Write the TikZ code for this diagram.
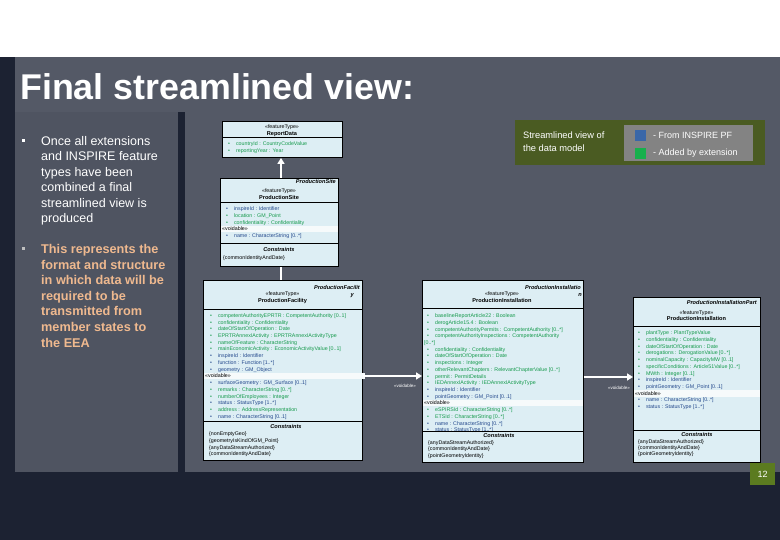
\documentclass[tikz,border=0pt]{standalone}
\usepackage{fontspec}
\setmainfont{Liberation Sans}
\usetikzlibrary{arrows.meta}
\definecolor{slateL}{HTML}{4F5461}
\definecolor{slateR}{HTML}{545966}
\definecolor{navy}{HTML}{1C2232}
\definecolor{umlfill}{HTML}{DDEEF4}
\definecolor{umlb}{HTML}{23488C}
\definecolor{umlg}{HTML}{159A4C}
\definecolor{tanc}{HTML}{EFB98F}
\definecolor{olive}{HTML}{4A5B22}
\definecolor{leggray}{HTML}{838383}
\definecolor{pfblue}{HTML}{3A67A8}
\definecolor{extgreen}{HTML}{17B04C}
\definecolor{pagegreen}{HTML}{5B7B20}
\definecolor{bandc}{HTML}{F6FAFB}
\begin{document}
\begin{tikzpicture}[x=1pt,y=-1pt,
  umlbox/.style={draw=black,line width=0.9pt,fill=umlfill,inner sep=0pt,anchor=north west},
  attr/.style={anchor=base west,inner sep=0pt,font=\fontsize{5.3}{6}\selectfont},
  stereo/.style={anchor=base,inner sep=0pt,font=\fontsize{5.3}{6}\selectfont},
  cname/.style={anchor=base,inner sep=0pt,font=\bfseries\fontsize{5.6}{6.5}\selectfont},
  tagname/.style={anchor=base east,inner sep=0pt,font=\bfseries\itshape\fontsize{5.6}{6.5}\selectfont},
  void/.style={anchor=base west,inner sep=0pt,font=\fontsize{5.3}{6}\selectfont},
  cons/.style={anchor=base west,inner sep=0pt,font=\fontsize{5.3}{6}\selectfont},
  conshead/.style={anchor=base,inner sep=0pt,font=\bfseries\itshape\fontsize{5.6}{6.5}\selectfont},
  sepline/.style={draw=black,line width=0.9pt},
  link/.style={draw=white,line width=1.6pt},
  arrowlink/.style={link,-{Triangle[width=7pt,length=6pt]}},
  linklabel/.style={anchor=base east,inner sep=0pt,text=white,font=\fontsize{4.5}{5}\selectfont},
  bodytext/.style={anchor=base west,inner sep=0pt,font=\fontsize{12.5}{15}\selectfont},
  legtext/.style={anchor=base west,inner sep=0pt,text=white,font=\fontsize{9.3}{11}\selectfont},
  swatch/.style={minimum size=11pt,anchor=north west,inner sep=0pt}
]
\useasboundingbox (0,0) rectangle (780,540);
% ---------- background ----------
\fill[white] (0,0) rectangle (780,540);
\fill[slateR] (0,57) rectangle (780,472);
\fill[slateL] (15,112) rectangle (178,472);
\fill[navy] (0,57) rectangle (15,540);
\fill[navy] (178,112) rectangle (185,472);
\fill[navy] (0,472) rectangle (780,540);

% ---------- title ----------
\node[anchor=base west,inner sep=0pt,text=white,font=\bfseries\fontsize{35.8}{40}\selectfont] (title) at (20,100) {Final streamlined view:};

% ---------- left text ----------
\fill[white] (21.5,139.5) rectangle ++(3,3);
\fill[black!25] (21.5,247.5) rectangle ++(3,3);
\foreach \txt [count=\i] in {Once all extensions, and INSPIRE feature, types have been, combined a final, streamlined view is, produced}
  {\node[bodytext,text=white] (ba\i) at (41,{145.3+15.5*(\i-1)}) {\txt};}
\foreach \txt [count=\i] in {This represents the, format and structure, in which data will be, required to be, transmitted from, member states to, the EEA}
  {\node[bodytext,text=tanc,font=\bfseries\fontsize{12.7}{15}\selectfont] (bb\i) at (41,{253.5+15.6*(\i-1)}) {\txt};}

% ---------- legend ----------
\node[fill=olive,minimum width=250pt,minimum height=45pt,anchor=north west,inner sep=0pt] (legend) at (515,120) {};
\node[fill=leggray,minimum width=129pt,minimum height=36pt,anchor=north west,inner sep=0pt] (legin) at (624,125) {};
\node[legtext] (legt1) at (523,138.5) {Streamlined view of};
\node[legtext] (legt2) at (523,151.5) {the data model};
\node[swatch,fill=pfblue] (sqb) at (635,130) {};
\node[swatch,fill=extgreen] (sqg) at (635,147.5) {};
\node[legtext,font=\fontsize{9}{11}\selectfont] (legb) at (653,138.5) {- From INSPIRE PF};
\node[legtext,font=\fontsize{9}{11}\selectfont] (legg) at (653,155.5) {- Added by extension};

% ---------- page number ----------
\node[fill=pagegreen,minimum width=25pt,minimum height=22pt,anchor=north west,inner sep=0pt] (pg) at (750,463) {};
\node[text=white,inner sep=0pt,font=\fontsize{9}{10}\selectfont] (pgn) at (pg.center) {12};

% ---------- ReportData ----------
\node[umlbox,minimum width=120pt,minimum height=36pt] (report) at (222,121) {};
\node[stereo] (rs) at (282,129) {«featureType»};
\node[cname] (rn) at (282,135.3) {ReportData};
\draw[sepline] (222,137.5) -- (342,137.5);
\node[attr,text=umlg] (ra1) at (228,145.8) {•\hspace{6pt}countryId : CountryCodeValue};
\node[attr,text=umlg] (ra2) at (228,152.8) {•\hspace{6pt}reportingYear : Year};

% ---------- ProductionSite ----------
\node[umlbox,minimum width=118pt,minimum height=88pt] (site) at (220,178) {};
\node[tagname] (stag) at (336,184) {ProductionSite};
\node[stereo] (ss) at (279,193) {«featureType»};
\node[cname] (sn) at (279,199.3) {ProductionSite};
\draw[sepline] (220,202.5) -- (338,202.5);
\fill[bandc] (220.5,225.9) rectangle (337.5,232.3);
\foreach \cc/\txt [count=\i] in {umlb/{inspireId : Identifier}, umlg/{location : GM\_Point}, umlg/{confidentiality : Confidentiality}}
  {\node[attr,text=\cc] (sa\i) at (226,{210.8+6.7*(\i-1)}) {•\hspace{6pt}\txt};}
\node[void] (sv) at (222,230.9) {«voidable»};
\node[attr,text=umlb] (sa4) at (226,237.6) {•\hspace{6pt}name : CharacterString [0..*]};
\draw[sepline] (220,243) -- (338,243);
\node[conshead] (sch) at (279,252) {Constraints};
\node[cons] (sc1) at (223,260) {\{commonIdentityAndDate\}};

% ---------- ProductionFacility ----------
\node[umlbox,minimum width=159pt,minimum height=180pt] (facility) at (203,280) {};
\node[tagname] (ftag) at (360,290) {ProductionFacilit};
\node[tagname] (ftag2) at (354,297) {y};
\node[stereo] (fs) at (282.5,296) {«featureType»};
\node[cname] (fn) at (282.5,303) {ProductionFacility};
\draw[sepline] (203,309) -- (362,309);
\fill[bandc] (203.5,372.8) rectangle (365,379.3);
\foreach \cc/\txt [count=\i] in {
  umlg/{competentAuthorityEPRTR : CompetentAuthority [0..1]},
  umlg/{confidentiality : Confidentiality},
  umlg/{dateOfStartOfOperation : Date},
  umlg/{EPRTRAnnexIActivity : EPRTRAnnexIActivityType},
  umlg/{nameOfFeature : CharacterString},
  umlg/{mainEconomicActivity : EconomicActivityValue [0..1]},
  umlb/{inspireId : Identifier},
  umlb/{function : Function [1..*]},
  umlb/{geometry : GM\_Object}}
  {\node[attr,text=\cc] (fa\i) at (210,{317.5+6.7*(\i-1)}) {•\hspace{6pt}\txt};}
\node[void] (fv) at (205,377.8) {«voidable»};
\foreach \cc/\txt [count=\i] in {
  umlb/{surfaceGeometry : GM\_Surface [0..1]},
  umlg/{remarks : CharacterString [0..*]},
  umlg/{numberOfEmployees : Integer},
  umlb/{status : StatusType [1..*]},
  umlg/{address : AddressRepresentation},
  umlb/{name : CharacterString [0..1]}}
  {\node[attr,text=\cc] (fb\i) at (210,{384.8+6.7*(\i-1)}) {•\hspace{6pt}\txt};}
\draw[sepline] (203,421) -- (362,421);
\node[conshead] (fch) at (286,428.5) {Constraints};
\foreach \txt [count=\i] in {{\{nonEmptyGeo\}}, {\{geometryIsKindOfGM\_Point\}}, {\{anyDataStreamAuthorized\}}, {\{commonIdentityAndDate\}}}
  {\node[cons] (fc\i) at (209,{435.8+6.6*(\i-1)}) {\txt};}

% ---------- ProductionInstallation ----------
\node[umlbox,minimum width=161pt,minimum height=182pt] (installation) at (422,280) {};
\node[tagname] (itag) at (581,290) {ProductionInstallatio};
\node[tagname] (itag2) at (582,297) {n};
\node[stereo] (is) at (502,296) {«featureType»};
\node[cname] (in) at (502,303) {ProductionInstallation};
\draw[sepline] (422,308) -- (583,308);
\fill[bandc] (422.5,399.9) rectangle (582.5,406.4);
\foreach \cc/\txt [count=\i] in {
  umlg/{baselineReportArticle22 : Boolean},
  umlg/{derogArticle15.4 : Boolean},
  umlg/{competentAuthorityPermits : CompetentAuthority [0..*]},
  umlg/{competentAuthorityInspections : CompetentAuthority}}
  {\node[attr,text=\cc] (ia\i) at (427,{317.8+6.7*(\i-1)}) {•\hspace{6pt}\txt};}
\node[attr,text=umlg] (iwrap) at (424,344.6) {[0..*]};
\foreach \cc/\txt [count=\i] in {
  umlg/{confidentiality : Confidentiality},
  umlg/{dateOfStartOfOperation : Date},
  umlg/{inspections : Integer},
  umlg/{otherRelevantChapters : RelevantChapterValue [0..*]},
  umlg/{permit : PermitDetails},
  umlg/{IEDAnnexIActivity : IEDAnnexIActivityType},
  umlb/{inspireId : Identifier},
  umlb/{pointGeometry : GM\_Point [0..1]}}
  {\node[attr,text=\cc] (ib\i) at (427,{351.3+6.7*(\i-1)}) {•\hspace{6pt}\txt};}
\node[void] (iv) at (424,404.9) {«voidable»};
\foreach \cc/\txt [count=\i] in {
  umlg/{eSPIRSId : CharacterString [0..*]},
  umlg/{ETSId : CharacterString [0..*]},
  umlb/{name : CharacterString [0..*]},
  umlb/{status : StatusType [1..*]}}
  {\node[attr,text=\cc] (ic\i) at (427,{411.6+6.7*(\i-1)}) {•\hspace{6pt}\txt};}
\draw[sepline] (422,431.5) -- (583,431.5);
\node[conshead] (ich) at (499,437) {Constraints};
\foreach \txt [count=\i] in {{\{anyDataStreamAuthorized\}}, {\{commonIdentityAndDate\}}, {\{pointGeometryIdentity\}}}
  {\node[cons] (ic\i x) at (428,{444+6.6*(\i-1)}) {\txt};}

% ---------- ProductionInstallationPart ----------
\node[umlbox,minimum width=127pt,minimum height=165pt] (part) at (633,297) {};
\node[tagname] (ptag) at (757,305) {ProductionInstallationPart};
\node[stereo] (ps) at (696.5,314.5) {«featureType»};
\node[cname] (pn) at (696.5,321) {ProductionInstallation};
\draw[sepline] (633,326) -- (760,326);
\fill[bandc] (633.5,390.1) rectangle (759.5,396.5);
\foreach \cc/\txt [count=\i] in {
  umlg/{plantType : PlantTypeValue},
  umlg/{confidentiality : Confidentiality},
  umlg/{dateOfStartOfOperation : Date},
  umlg/{derogations : DerogationValue [0..*]},
  umlg/{nominalCapacity : CapacityMW [0..1]},
  umlg/{specificConditions : Article51Value [0..*]},
  umlg/{MWth : Integer [0..1]},
  umlb/{inspireId : Identifier},
  umlb/{pointGeometry : GM\_Point [0..1]}}
  {\node[attr,text=\cc] (pa\i) at (638,{334.8+6.7*(\i-1)}) {•\hspace{6pt}\txt};}
\node[void] (pv) at (635,395.1) {«voidable»};
\foreach \cc/\txt [count=\i] in {
  umlb/{name : CharacterString [0..*]},
  umlb/{status : StatusType [1..*]}}
  {\node[attr,text=\cc] (pb\i) at (638,{401.8+6.7*(\i-1)}) {•\hspace{6pt}\txt};}
\draw[sepline] (633,430) -- (760,430);
\node[conshead] (pch) at (697,436.5) {Constraints};
\foreach \txt [count=\i] in {{\{anyDataStreamAuthorized\}}, {\{commonIdentityAndDate\}}, {\{pointGeometryIdentity\}}}
  {\node[cons] (pc\i) at (638,{443+6.2*(\i-1)}) {\txt};}

% ---------- connectors ----------
\coordinate (cx) at (281,0);
\coordinate (ya) at (0,376);
\coordinate (yb) at (0,377);
\draw[arrowlink] (site.north -| cx) -- (report.south -| cx);
\draw[link] (facility.north -| cx) -- (site.south -| cx);
\draw[arrowlink] (facility.east |- ya) -- (installation.west |- ya);
\draw[arrowlink] (installation.east |- yb) -- (part.west |- yb);
\node[linklabel] (lv1) at (416,388) {«voidable»};
\node[linklabel] (lv2) at (630,389) {«voidable»};
\end{tikzpicture}
\end{document}
